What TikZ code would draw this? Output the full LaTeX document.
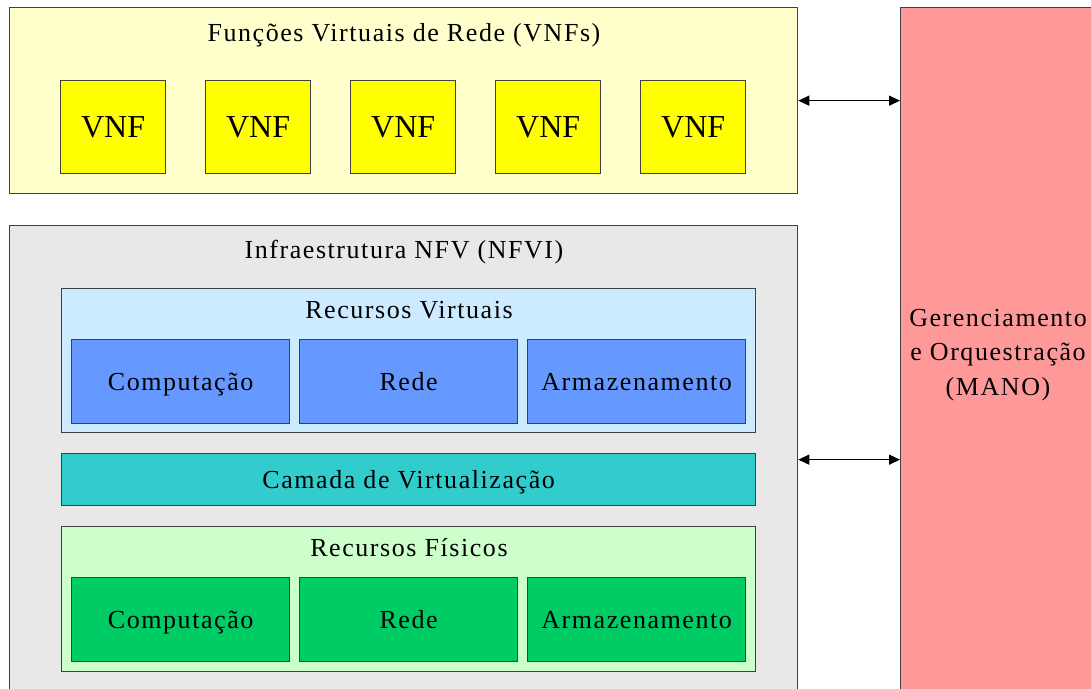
\documentclass[tikz,border=0pt]{standalone}
\usepackage{fontspec}
\setmainfont{Liberation Serif}
\newfontfamily\spacedfont{Liberation Serif}[LetterSpace=6]
\usetikzlibrary{arrows.meta}

\newlength{\du}
\setlength{\du}{1pt}

\definecolor{boxline}{rgb}{0.250000, 0.250000, 0.250000}
\definecolor{vnfback}{rgb}{1.000000, 1.000000, 0.800000}
\definecolor{vnffill}{rgb}{1.000000, 1.000000, 0.000000}
\definecolor{nfviback}{rgb}{0.910000, 0.910000, 0.910000}
\definecolor{virtback}{rgb}{0.800000, 0.922000, 1.000000}
\definecolor{virtfill}{rgb}{0.400000, 0.600000, 1.000000}
\definecolor{camfill}{rgb}{0.200000, 0.800000, 0.800000}
\definecolor{physback}{rgb}{0.800000, 1.000000, 0.800000}
\definecolor{physfill}{rgb}{0.000000, 0.800000, 0.400000}
\definecolor{manofill}{rgb}{1.000000, 0.600000, 0.600000}

\tikzset{
  layer/.style={rectangle, draw=boxline, line width=1.3\du, inner sep=0pt, anchor=north west},
  txt/.style={font=\spacedfont\fontsize{26}{34.5}\selectfont, text height=24\du, text depth=6\du},
  vnfbox/.style={layer, fill=vnffill, minimum width=105\du, minimum height=93\du,
    font=\fontsize{32}{36}\selectfont},
  resbox/.style={layer, minimum width=218\du, minimum height=84\du, txt},
  link/.style={draw=black, line width=1.4pt, {Triangle[length=11pt,width=10pt]}-{Triangle[length=11pt,width=10pt]}},
}

\begin{document}
\begin{tikzpicture}
\pgftransformxscale{1.000000}
\pgftransformyscale{-1.000000}
\useasboundingbox (0\du,0\du) rectangle (1091\du,688\du);
\clip (0\du,0\du) rectangle (1091\du,688\du);

% VNFs
\node[layer, fill=vnfback, minimum width=788\du, minimum height=186\du] (vnfs) at (9\du,7\du) {};
\node[txt] (vnftitle) at (404\du,32\du) {Funções Virtuais de Rede (VNFs)};
\foreach \i/\x in {1/60, 2/205, 3/350, 4/495, 5/640}
  \node[vnfbox] (vnf\i) at (\x\du,80\du) {VNF};

% NFVI
\node[layer, fill=nfviback, minimum width=788\du, minimum height=468\du] (nfvi) at (9\du,225\du) {};
\node[txt] (nfvititle) at (404\du,249\du) {Infraestrutura NFV (NFVI)};

% recursos virtuais
\node[layer, fill=virtback, minimum width=694\du, minimum height=144\du] (virt) at (61\du,288\du) {};
\node[txt] (virttitle) at (409\du,309\du) {Recursos Virtuais};
\node[resbox, fill=virtfill] (vcomp) at (71\du,339\du) {Computação};
\node[resbox, fill=virtfill] (vrede) at (299\du,339\du) {Rede};
\node[resbox, fill=virtfill] (varm) at (527\du,339\du) {Armazenamento};

% camada de virtualizacao
\node[layer, fill=camfill, minimum width=694\du, minimum height=52\du, txt] (cam) at (61\du,453\du) {Camada de Virtualização};

% recursos fisicos
\node[layer, fill=physback, minimum width=694\du, minimum height=145\du] (phys) at (61\du,526\du) {};
\node[txt] (phystitle) at (409\du,547\du) {Recursos Físicos};
\node[resbox, fill=physfill] (pcomp) at (71\du,577\du) {Computação};
\node[resbox, fill=physfill] (prede) at (299\du,577\du) {Rede};
\node[resbox, fill=physfill] (parm) at (527\du,577\du) {Armazenamento};

% MANO
\node[layer, fill=manofill, minimum width=194\du, minimum height=690\du] (mano) at (900\du,7\du) {};
\node[txt, align=center, text height=, text depth=] (manotext) at (998\du,355\du) {Gerenciamento\\e Orquestração\\(MANO)};

% ligacoes
\draw[link] (vnfs.east) -- (mano.west |- vnfs.east);
\draw[link] (nfvi.east) -- (mano.west |- nfvi.east);
\end{tikzpicture}
\end{document}
